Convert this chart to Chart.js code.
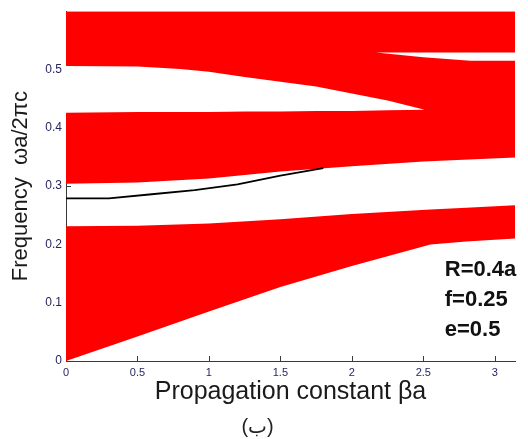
<!DOCTYPE html>
<html>
<head>
<meta charset="utf-8">
<script src="https://cdn.jsdelivr.net/npm/chart.js@4.4.1/dist/chart.umd.min.js"></script>
<style>
  html, body { margin: 0; padding: 0; background: #fff; }
  #contenedor { width: 528px; height: 439px; }
</style>
</head>
<body>
<div id="contenedor"><canvas id="grafica"></canvas></div>
<script>
// Ticks de los ejes
const xTicks = [0, 0.5, 1, 1.5, 2, 2.5, 3];
const yTicks = [0, 0.1, 0.2, 0.3, 0.4, 0.5];
const xMax = Math.PI;
const yMax = 0.6;

// Primera banda (abajo)
const betaBanda1 = [0, 0.5, 1.0, 1.5, 2.0, 2.55, 2.8, 3.1416];
const banda1Inf = [0, 0.042, 0.085, 0.127, 0.163, 0.200, 0.205, 0.210];
const banda1Sup = [0.231, 0.232, 0.236, 0.243, 0.252, 0.260, 0.263, 0.267];

// Bandas superiores (bloque rojo)
const betaBanda2 = [0, 0.5, 1.0, 1.5, 2.0, 2.5, 3.1416];
const banda2Inf = [0.304, 0.306, 0.313, 0.325, 0.334, 0.342, 0.349];
const banda2Sup = [0.6, 0.6, 0.6, 0.6, 0.6, 0.6, 0.6];

// Gaps dentro del bloque
const betaGap1 = [0, 0.5, 0.8, 1.0, 1.25, 1.5, 1.75, 2.0, 2.25, 2.51];
const gap1Inf = [0.426, 0.427, 0.427, 0.427, 0.428, 0.428, 0.429, 0.429, 0.430, 0.431];
const gap1Sup = [0.506, 0.505, 0.501, 0.496, 0.487, 0.479, 0.471, 0.459, 0.447, 0.431];
const betaGap2 = [2.17, 2.5, 2.83, 3.1416];
const gap2Inf = [0.529, 0.521, 0.515, 0.515];
const gap2Sup = [0.529, 0.529, 0.529, 0.529];

// Modo guiado (linea negra)
const betaModo = [0, 0.3, 0.6, 0.9, 1.2, 1.5, 1.8];
const modo = [0.279, 0.279, 0.286, 0.293, 0.303, 0.318, 0.331];

// Textos
const anotaciones = ['R=0.4a', 'f=0.25', 'e=0.5'];

const ROJO = '#ff0000';
const BLANCO = '#ffffff';
const EJE = '#3a3a3a';
const fuente = "'Liberation Sans', Arial, sans-serif";

function puntos(xs, ys) {
    return xs.map((x, i) => ({ x: x, y: ys[i] }));
}

function borde(xs, ys, color, relleno) {
    return {
        data: puntos(xs, ys),
        borderWidth: 0,
        pointRadius: 0,
        backgroundColor: color,
        fill: relleno ? '+1' : false,
        tension: 0
    };
}

// Marcas de los ticks hacia dentro (estilo matlab)
const ticksAdentro = {
    id: 'ticksAdentro',
    beforeDatasetsDraw(chart) {
        const { ctx, chartArea, scales } = chart;
        ctx.save();
        ctx.strokeStyle = EJE;
        ctx.lineWidth = 1;
        ctx.beginPath();
        xTicks.forEach(v => {
            const px = Math.round(scales.x.getPixelForValue(v)) + 0.5;
            ctx.moveTo(px, chartArea.bottom);
            ctx.lineTo(px, chartArea.bottom - 5);
        });
        yTicks.forEach(v => {
            const py = Math.round(scales.y.getPixelForValue(v)) + 0.5;
            ctx.moveTo(chartArea.left, py);
            ctx.lineTo(chartArea.left + 5, py);
        });
        ctx.stroke();
        ctx.restore();
    }
};

// Parametros de la estructura
const textoParametros = {
    id: 'textoParametros',
    afterDatasetsDraw(chart) {
        const { ctx, scales } = chart;
        ctx.save();
        ctx.fillStyle = '#111';
        ctx.font = 'bold 22px ' + fuente;
        ctx.textBaseline = 'alphabetic';
        anotaciones.forEach((t, i) => {
            const px = scales.x.getPixelForValue(2.65);
            const py = scales.y.getPixelForValue(0.145) + i * 30;
            ctx.fillText(t, px, py);
        });
        ctx.restore();
    }
};

Chart.defaults.font.family = fuente;

const ctx = document.getElementById('grafica').getContext('2d');
const grafica = new Chart(ctx, {
    type: 'line',
    data: {
        datasets: [
            { data: puntos(betaModo, modo), borderColor: '#000', borderWidth: 1.8, pointRadius: 0, fill: false, tension: 0 },
            borde(betaGap2, gap2Sup, BLANCO, true),
            borde(betaGap2, gap2Inf, BLANCO, false),
            borde(betaGap1, gap1Sup, BLANCO, true),
            borde(betaGap1, gap1Inf, BLANCO, false),
            borde(betaBanda2, banda2Sup, ROJO, true),
            borde(betaBanda2, banda2Inf, ROJO, false),
            borde(betaBanda1, banda1Sup, ROJO, true),
            borde(betaBanda1, banda1Inf, ROJO, false)
        ]
    },
    options: {
        responsive: true,
        maintainAspectRatio: false,
        animation: false,
        layout: { padding: { left: 0, right: 13, top: 10, bottom: 0 } },
        plugins: {
            legend: { display: false },
            tooltip: { enabled: false },
            title: {
                display: true,
                position: 'bottom',
                text: '(ب)',
                color: '#222',
                font: { size: 20, weight: 'normal', family: "'Liberation Sans', 'DejaVu Sans', sans-serif" },
                padding: { top: 0, bottom: 0 }
            }
        },
        scales: {
            x: {
                type: 'linear',
                min: 0,
                max: xMax,
                afterBuildTicks: s => { s.ticks = xTicks.map(v => ({ value: v })); },
                afterFit: s => { s.height = 54; },
                grid: { display: false, drawTicks: false },
                border: { display: true, color: EJE, width: 1 },
                ticks: { color: '#262660', font: { size: 11 }, padding: 5, maxRotation: 0, autoSkip: false, callback: v => String(v) },
                title: { display: true, text: 'Propagation constant βa', color: '#1a1a1a', font: { size: 25 }, padding: { top: 0, bottom: 8 } }
            },
            y: {
                type: 'linear',
                min: 0,
                max: yMax,
                afterBuildTicks: s => { s.ticks = yTicks.map(v => ({ value: v })); },
                afterFit: s => { s.width = 66; },
                grid: { display: false, drawTicks: false },
                border: { display: true, color: EJE, width: 1 },
                ticks: { color: '#262660', font: { size: 12 }, padding: 4, callback: v => String(v) },
                title: { display: true, text: 'Frequency  ωa/2πc', color: '#1a1a1a', font: { size: 22 }, padding: { top: 8, bottom: 0 } }
            }
        }
    },
    plugins: [ticksAdentro, textoParametros]
});
</script>
</body>
</html>
